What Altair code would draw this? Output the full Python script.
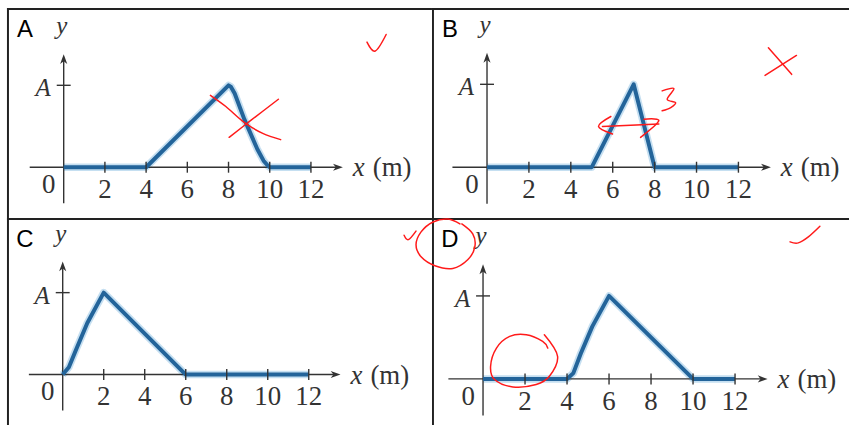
import altair as alt
import pandas as pd

# Pulse profiles: x in metres, y in units of the amplitude A
pulse_a_x = [0, 4, 8, 8.12, 8.3, 8.76, 9.4, 9.7, 9.9, 10, 12]
pulse_a_y = [0, 0, 1, 0.98, 0.9, 0.59, 0.22, 0.08, 0.02, 0, 0]
pulse_b_x = [0, 5, 7, 8, 12]
pulse_b_y = [0, 0, 1, 0, 0]
pulse_c_x = [0, 0.3, 0.66, 1.2, 2, 6, 12]
pulse_c_y = [0, 0.09, 0.31, 0.63, 1, 0, 0]
pulse_d_x = [0, 4, 4.3, 4.66, 5.2, 6, 10, 12]
pulse_d_y = [0, 0, 0.07, 0.31, 0.63, 1, 0, 0]

tick_values = [2, 4, 6, 8, 10, 12]
tick_labels = ["2", "4", "6", "8", "10", "12"]
panel_names = ["A", "B", "C", "D"]

# Red pen marks (x in metres, y in units of A)
check_a_x, check_a_y = [14.72, 15.12, 15.65], [1.527, 1.418, 1.62]
cross_a1_x = [7.12, 7.87, 8.76, 9.66, 10.53]
cross_a1_y = [0.878, 0.741, 0.547, 0.413, 0.337]
cross_a2_x, cross_a2_y = [8.03, 9.08, 10.42], [0.365, 0.571, 0.830]
cross_b1_x, cross_b1_y = [13.43, 14.54], [1.44, 1.12]
cross_b2_x, cross_b2_y = [13.27, 14.77], [1.108, 1.348]
three_b_x = [8.36, 8.92, 8.60, 9.00, 8.77, 8.36]
three_b_y = [0.921, 0.948, 0.820, 0.780, 0.72, 0.681]
arrow_b_l_x, arrow_b_l_y = [5.91, 5.32, 5.99], [0.612, 0.492, 0.40]
arrow_b_s_x, arrow_b_s_y = [5.51, 8.20], [0.492, 0.520]
arrow_b_r_x, arrow_b_r_y = [7.49, 8.20, 7.33], [0.58, 0.561, 0.36]
check_c_x, check_c_y = [16.65, 16.86, 17.23], [1.70, 1.647, 1.751]
check_d_x = [14.62, 15.01, 15.49, 16.04]
check_d_y = [1.651, 1.639, 1.711, 1.839]
ring_d1_x = [-1.01, -0.49, -0.39, -0.73, -1.44, -2.29, -2.95, -3.19, -2.95, -2.38, -1.67, -1.10]
ring_d1_y = [1.867, 1.747, 1.591, 1.435, 1.331, 1.363, 1.471, 1.615, 1.771, 1.891, 1.927, 1.867]
ring_d2_x = [2.92, 3.55, 3.16, 2.53, 1.42, 0.55, 0.36, 0.64, 1.27, 2.06, 2.84, 3.08]
ring_d2_y = [0.532, 0.272, 0.032, -0.067, -0.096, -0.007, 0.152, 0.372, 0.512, 0.532, 0.452, 0.372]

SERIF = "Liberation Serif"
SANS = "Liberation Sans"
INK = "#333333"
BLUE = "#23649a"
GLOW = "#8cc0e4"

ARROW_RIGHT = "M0,0 L-1.8,-0.65 L-1.3,0 L-1.8,0.65 Z"
ARROW_UP = "M0,0 L-0.65,1.8 L0,1.3 L0.65,1.8 Z"


def strokes_frame(strokes):
    rows = []
    for sid, (xs, ys) in enumerate(strokes):
        for i, (x, y) in enumerate(zip(xs, ys)):
            rows.append({"x": x, "y": y, "s": sid, "i": i})
    return pd.DataFrame(rows)


def panel(name, px_list, py_list, strokes, W, H, ox, oy, ppx, ppy):
    xsc = alt.Scale(domain=[-ox / ppx, (W - ox) / ppx], nice=False, zero=False)
    ysc = alt.Scale(domain=[(oy - H) / ppy, oy / ppy], nice=False, zero=False)
    X = alt.X("x:Q", scale=xsc, axis=None)
    Y = alt.Y("y:Q", scale=ysc, axis=None)

    def ch(df):
        return alt.Chart(df)

    x_end, x_start = 13.55, -1.65
    y_top, y_bot = 1.38, -0.44

    xaxis = ch(pd.DataFrame({"x": [x_start, x_end - 0.3], "y": [0, 0]})).mark_line(
        color=INK, strokeWidth=1.4).encode(x=X, y=Y)
    yaxis = ch(pd.DataFrame({"x": [0, 0], "y": [y_bot, y_top - 0.06], "i": [0, 1]})).mark_line(
        color=INK, strokeWidth=1.4).encode(x=X, y=Y, order="i:Q")
    head_x = ch(pd.DataFrame({"x": [x_end], "y": [0]})).mark_point(
        shape=ARROW_RIGHT, filled=True, size=121, color=INK, opacity=1).encode(x=X, y=Y)
    head_y = ch(pd.DataFrame({"x": [0], "y": [y_top]})).mark_point(
        shape=ARROW_UP, filled=True, size=121, color=INK, opacity=1).encode(x=X, y=Y)

    ticks_df = pd.DataFrame({"x": tick_values, "y": [0] * len(tick_values), "t": tick_labels})
    xticks = ch(ticks_df).mark_tick(orient="vertical", size=11, thickness=1.4,
                                    color=INK, opacity=1).encode(x=X, y=Y)
    aticks = ch(pd.DataFrame({"x": [0], "y": [1]})).mark_tick(
        orient="horizontal", size=14, thickness=1.4, color=INK, opacity=1).encode(x=X, y=Y)
    tick_text = ch(ticks_df).mark_text(font=SERIF, fontSize=27, color=INK, dy=23,
                                       baseline="middle").encode(x=X, y=Y, text="t:N")

    zero_lbl = ch(pd.DataFrame({"x": [0], "y": [0], "t": ["0"]})).mark_text(
        font=SERIF, fontSize=27, color=INK, dx=-15, dy=18, baseline="middle").encode(
        x=X, y=Y, text="t:N")
    a_lbl = ch(pd.DataFrame({"x": [0], "y": [1], "t": ["A"]})).mark_text(
        font=SERIF, fontSize=25, fontStyle="italic", color=INK, align="right",
        dx=-13, dy=3, baseline="middle").encode(x=X, y=Y, text="t:N")
    y_lbl = ch(pd.DataFrame({"x": [0], "y": [y_top], "t": ["y"]})).mark_text(
        font=SERIF, fontSize=25, fontStyle="italic", color=INK, dx=-2, dy=-28,
        baseline="middle").encode(x=X, y=Y, text="t:N")
    x_lbl = ch(pd.DataFrame({"x": [x_end], "y": [0], "t": ["x"]})).mark_text(
        font=SERIF, fontSize=27, fontStyle="italic", color=INK, align="left",
        dx=10, dy=1, baseline="middle").encode(x=X, y=Y, text="t:N")
    m_lbl = ch(pd.DataFrame({"x": [x_end], "y": [0], "t": ["(m)"]})).mark_text(
        font=SERIF, fontSize=27, color=INK, align="left",
        dx=30, dy=1, baseline="middle").encode(x=X, y=Y, text="t:N")

    pulse_df = pd.DataFrame({"x": px_list, "y": py_list, "i": range(len(px_list))})
    glow = ch(pulse_df).mark_line(color=GLOW, strokeWidth=7.5, opacity=0.5,
                                  strokeJoin="round").encode(x=X, y=Y, order="i:Q")
    core = ch(pulse_df).mark_line(color=BLUE, strokeWidth=4,
                                  strokeJoin="round").encode(x=X, y=Y, order="i:Q")

    letter = ch(pd.DataFrame({"t": [name]})).mark_text(
        font=SANS, fontSize=24, color="black", baseline="middle").encode(
        x=alt.value(18), y=alt.value(22), text="t:N")

    left_edge = ch(pd.DataFrame({"t": [0]})).mark_rule(color="#222222", strokeWidth=2).encode(
        x=alt.value(1), y=alt.value(0), y2=alt.value(H))
    top_edge = ch(pd.DataFrame({"t": [0]})).mark_rule(color="#222222", strokeWidth=2).encode(
        y=alt.value(1), x=alt.value(0), x2=alt.value(W))

    layers = [left_edge, top_edge, glow, xaxis, yaxis, core, head_x, head_y, xticks,
              aticks, tick_text, zero_lbl, a_lbl, y_lbl, x_lbl, m_lbl, letter]

    if strokes:
        pen = ch(strokes_frame(strokes)).mark_line(
            color="#ff1a1a", strokeWidth=1.5, interpolate="cardinal",
            strokeCap="round", strokeJoin="round").encode(
            x=X, y=Y, detail="s:N", order="i:Q")
        layers.append(pen)

    return alt.layer(*layers).properties(width=W, height=H)


pa = panel(panel_names[0], pulse_a_x, pulse_a_y,
           [(check_a_x, check_a_y), (cross_a1_x, cross_a1_y), (cross_a2_x, cross_a2_y)],
           427, 211, 57, 160, 20.7, 82.3)
pb = panel(panel_names[1], pulse_b_x, pulse_b_y,
           [(cross_b1_x, cross_b1_y), (cross_b2_x, cross_b2_y), (three_b_x, three_b_y),
            (arrow_b_l_x, arrow_b_l_y), (arrow_b_s_x, arrow_b_s_y), (arrow_b_r_x, arrow_b_r_y)],
           419, 211, 55.3, 160, 21.05, 83.3)
pc = panel(panel_names[2], pulse_c_x, pulse_c_y,
           [(check_c_x, check_c_y)],
           427, 209, 56, 157.3, 20.6, 82.3)
pd_ = panel(panel_names[3], pulse_d_x, pulse_d_y,
            [(check_d_x, check_d_y), (ring_d1_x, ring_d1_y), (ring_d2_x, ring_d2_y)],
            419, 209, 51.3, 161.7, 21.1, 83.4)

chart = alt.concat(pa, pb, pc, pd_, columns=2, spacing=0, bounds="flush").properties(
    padding={"left": 5, "top": 5, "right": 0, "bottom": 0},
    background="white",
).configure_view(stroke="transparent")

chart.save("out.html", embed_options={"renderer": "svg", "actions": False})
